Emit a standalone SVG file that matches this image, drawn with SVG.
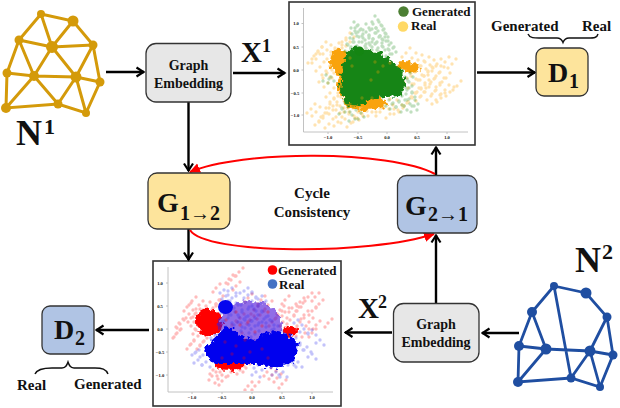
<svg xmlns="http://www.w3.org/2000/svg" width="620" height="408" viewBox="0 0 620 408">
<style>
text{font-family:"Liberation Serif","Times New Roman",serif;font-weight:bold;fill:#111}
.box{stroke:#333;stroke-width:1.3}
.gray{fill:#e7e7e7}.yel{fill:#fde49c}.blu{fill:#b0c4e4}
.lab{font-size:14px;text-anchor:middle}
.cy{font-size:15px;text-anchor:middle}
.lg{font-size:13px}
.side{font-size:15px}
.big{font-size:36px}.sup{font-size:22px}
.x{font-size:29px}.xs{font-size:18px}
.g{font-size:28px}.s{font-size:20px}
.tick{font-family:"DejaVu Sans",sans-serif;font-weight:normal;font-size:4.6px;fill:#666;text-anchor:middle}
.frame{fill:#fff;stroke:#333;stroke-width:1.6}
.spine{fill:none;stroke:#bbb;stroke-width:.9}
.arrow{fill:none;stroke:#000;stroke-width:2.4;marker-end:url(#v)}
.cyc{fill:none;stroke:#f00;stroke-width:2;marker-end:url(#r)}
.brace{fill:none;stroke:#111;stroke-width:1.4}
.y1{stroke:#d49a0a;stroke-width:3;fill:none;stroke-linecap:round}
.n1{fill:#d49a0a}
.b1{stroke:#1f4ea1;stroke-width:2.8;fill:none;stroke-linecap:round}
.n2{fill:#1f4ea1}
.dot{fill:none;stroke-linecap:round;stroke-width:3.4}
</style>
<defs>
<marker id="v" markerUnits="userSpaceOnUse" viewBox="0 0 12 12" refX="10.500" refY="6" markerWidth="12" markerHeight="12" orient="auto"><path d="M3 1.500L10 6L3 10.500" fill="none" stroke="#000" stroke-width="2.200"/></marker>
<marker id="r" markerUnits="userSpaceOnUse" viewBox="0 0 12 12" refX="10" refY="6" markerWidth="12" markerHeight="12" orient="auto"><path d="M0 1L11 6L0 11z" fill="#f00"/></marker>
<filter id="bl" x="-25%" y="-25%" width="150%" height="150%"><feTurbulence type="fractalNoise" baseFrequency=".22" numOctaves="2" seed="4" result="n"/><feDisplacementMap in="SourceGraphic" in2="n" scale="9" xChannelSelector="R" yChannelSelector="G"/><feGaussianBlur stdDeviation=".7"/></filter>
<clipPath id="c1"><rect x="290" y="3" width="184" height="128"/></clipPath>
<clipPath id="c2"><rect x="154" y="262" width="186" height="129"/></clipPath>
<path id="os" class="dot" stroke="#ffa500" d="M311 109h0M316 112h0M319 121h0M323 118h0M325 113h0M329 124h0M333 110h0M338 122h0M340 113h0M345 119h0M348 108h0M351 123h0M357 118h0M363 116h0M312 59h0M316 59h0M322 47h0M327 50h0M331 55h0M335 48h0M323 78h0M326 71h0M328 83h0M334 73h0M336 66h0M330 93h0M334 98h0M330 104h0M337 102h0M340 106h0M342 92h0M406 53h0M412 58h0M418 60h0M425 62h0M430 65h0M437 64h0M445 62h0M452 64h0M457 86h0M450 92h0M445 90h0M440 83h0M435 78h0M430 84h0M425 92h0M420 97h0M415 93h0M412 84h0M418 80h0M424 76h0M432 71h0M440 72h0M446 78h0M408 102h0M403 108h0M398 110h0M393 105h0M400 88h0M407 78h0M425 85h0M428 72h0M415 72h0M420 66h0M436 90h0M431 96h0M412 98h0M421 88h0M353 108h0M358 112h0M366 110h0M372 112h0M380 108h0M386 104h0M342 45h0M350 42h0M346 38h0M338 53h0M320 67h0M318 52h0M380 112h0M390 114h0M441 98h0M436 100h0"/>
<path id="gs" class="dot" stroke="#1c8a18" d="M354 22h0M355 28h0M358 25h0M356 33h0M362 36h0M366 32h0M375 16h0M381 25h0M379 22h0M383 30h0M376 33h0M372 29h0M380 36h0M386 41h0M382 46h0M375 44h0M369 43h0M362 42h0M354 42h0M351 47h0M348 45h0M355 47h0M366 48h0M373 39h0M385 37h0M391 43h0M389 50h0M377 50h0M369 38h0M360 30h0M385 33h0M393 48h0M373 24h0M366 24h0M350 38h0M404 86h0M409 88h0M402 96h0M407 100h0M404 106h0M414 106h0M412 93h0M409 82h0M405 77h0M410 73h0M399 101h0M393 103h0M389 100h0M352 115h0M342 108h0M353 106h0M326 75h0M331 77h0M361 113h0M345 103h0M415 100h0"/>
<path id="rs" class="dot" stroke="#f00" d="M177 333h0M179 323h0M176 334h0M180 324h0M187 307h0M192 301h0M189 314h0M191 318h0M196 313h0M199 305h0M194 340h0M200 345h0M203 342h0M190 345h0M206 306h0M216 288h0M231 280h0M236 286h0M229 279h0M239 272h0M205 322h0M198 325h0M196 330h0M194 322h0M202 314h0M212 310h0M219 300h0M216 304h0M212 376h0M218 379h0M222 381h0M220 372h0M213 370h0M248 386h0M255 386h0M261 300h0M268 305h0M280 310h0M285 312h0M292 308h0M297 311h0M300 302h0M308 297h0M315 297h0M319 304h0M312 311h0M304 315h0M309 322h0M316 325h0M328 323h0M300 322h0M290 320h0M278 315h0M272 322h0M283 322h0M260 315h0M250 320h0M240 318h0M232 325h0M305 333h0M312 333h0M272 375h0M277 378h0M267 372h0M282 384h0M240 370h0M231 372h0M246 368h0M285 300h0M299 307h0M248 298h0M254 310h0M238 337h0M250 345h0M262 360h0M278 345h0M292 340h0"/>
<path id="bs" class="dot" stroke="#2a2af0" d="M224 290h0M232 288h0M240 293h0M248 288h0M252 292h0M256 298h0M262 296h0M245 302h0M238 305h0M232 298h0M226 296h0M252 306h0M258 306h0M242 312h0M235 312h0M248 316h0M255 318h0M262 312h0M268 316h0M272 330h0M278 326h0M284 340h0M296 338h0M304 329h0M312 330h0M300 345h0M307 347h0M312 354h0M298 362h0M292 362h0M283 372h0M276 372h0M256 372h0M258 365h0M196 352h0M199 350h0M206 362h0M198 360h0M222 322h0M228 318h0M238 322h0M245 328h0M255 326h0M262 322h0M270 320h0M215 335h0M232 332h0M240 338h0M262 338h0M272 342h0M320 340h0M298 320h0M225 310h0M245 320h0M255 334h0"/>
</defs>
<rect width="620" height="408" fill="#fff"/>

<g id="plot-x1">
<rect class="frame" x="289" y="2" width="186" height="143"/>
<path class="spine" d="M303.500 8V132H468M303.500 23.500h-2M303.500 47h-2M303.500 70h-2M303.500 93h-2M303.500 115h-2M328 132v2M358 132v2M387 132v2M417 132v2M447 132v2"/>
<g class="tick"><text x="296" y="25">1.0</text><text x="296" y="48.500">0.5</text><text x="296" y="71.500">0.0</text><text x="295" y="94.500">−0.5</text><text x="295" y="116.500">−1.0</text><text x="328" y="139">−1.0</text><text x="358" y="139">−0.5</text><text x="387" y="139">0.0</text><text x="417" y="139">0.5</text><text x="447" y="139">1.0</text></g>
<g clip-path="url(#c1)">
<g opacity=".3"><use href="#os"/><use href="#os" transform="translate(4 -5)"/><use href="#os" transform="translate(-4 4)"/></g>
<g filter="url(#bl)" fill="#f9a30e"><ellipse cx="340" cy="62" rx="10" ry="13"/><ellipse cx="345" cy="85" rx="7" ry="14"/><ellipse cx="412" cy="68" rx="8" ry="5"/><ellipse cx="365" cy="103" rx="22" ry="7"/><ellipse cx="405" cy="66" rx="9" ry="5"/></g>
<g opacity=".27"><use href="#gs"/><use href="#gs" transform="translate(3 4)"/><use href="#gs" transform="translate(-3 6)"/></g>
<g fill="#148512"><path filter="url(#bl)" d="M342 70L345 56L356 46L365 50L380 53L392 61L402 70L405 85L400 96L385 97L372 99L360 106L346 104L340 92Z"/><circle cx="359.500" cy="51" r="4.500"/></g>
<path class="dot" stroke="#ffa500" opacity=".3" d="M350 58h0M352 66h0M375 62h0M378 72h0M383 66h0M371 80h0M390 63h0M398 66h0M362 98h0M372 98h0"/>
</g>
<circle cx="403.500" cy="11.500" r="5.200" fill="#4c7f33"/><circle cx="403" cy="26.500" r="5.200" fill="#ffd966"/>
<text class="lg" x="412" y="16">Generated</text><text class="lg" x="411" y="30">Real</text>
</g>

<g id="plot-x2">
<rect class="frame" x="153" y="261" width="188" height="145"/>
<path class="spine" d="M168 267V392H333M168 283h-2M168 306h-2M168 329h-2M168 352h-2M168 375h-2M192 392v2M222 392v2M252 392v2M282 392v2M312 392v2"/>
<g class="tick"><text x="160" y="284.500">1.0</text><text x="160" y="307.500">0.5</text><text x="160" y="330.500">0.0</text><text x="160" y="353.500">−0.5</text><text x="160" y="376.500">−1.0</text><text x="192" y="399">−1.0</text><text x="222" y="399">−0.5</text><text x="252" y="399">0.0</text><text x="282" y="399">0.5</text><text x="312" y="399">1.0</text></g>
<g clip-path="url(#c2)">
<g opacity=".26"><use href="#rs"/><use href="#rs" transform="translate(4 -4)"/><use href="#rs" transform="translate(-3 4)"/></g>
<g filter="url(#bl)" fill="#f00"><ellipse cx="209" cy="322" rx="13" ry="14"/><ellipse cx="290" cy="331" rx="7" ry="5"/><ellipse cx="230" cy="364" rx="15" ry="7"/></g>
<ellipse cx="250" cy="325" rx="32" ry="24" fill="#4a10d8" opacity=".6" filter="url(#bl)"/>
<g opacity=".28"><use href="#bs"/><use href="#bs" transform="translate(4 5)"/><use href="#bs" transform="translate(-4 3)"/></g>
<g fill="#0606ee"><path filter="url(#bl)" d="M204 352L212 340L228 325L240 335L255 340L270 330L290 335L299 345L294 362L275 368L255 364L235 364L215 364Z"/><ellipse cx="225.500" cy="307" rx="7.500" ry="7"/></g>
<g opacity=".3"><path class="dot" stroke="#f00" d="M236 346h0M245 340h0M250 352h0M262 349h0M225 342h0M232 354h0M244 358h0M255 332h0M240 325h0M226 320h0M268 358h0M222 358h0M248 322h0M262 326h0M236 312h0M268 312h0"/></g>
</g>
<circle cx="272.500" cy="270" r="4.800" fill="#f00"/><circle cx="272.500" cy="284" r="4.800" fill="#4472c4"/>
<text class="lg" x="278" y="275">Generated</text><text class="lg" x="279" y="289">Real</text>
</g>

<g id="connectors">
<path class="arrow" d="M106 72H144"/>
<path class="arrow" d="M233 73H285"/>
<path class="arrow" d="M477 72.500H535"/>
<path class="arrow" d="M188.500 102V171"/>
<path class="arrow" d="M188.500 229V260"/>
<path class="arrow" d="M436 175V147"/>
<path class="arrow" d="M436 303V235"/>
<path class="arrow" d="M519 333H482"/>
<path class="arrow" d="M392 332.500H345"/>
<path class="arrow" d="M149 330H96"/>
<path class="cyc" d="M435 174C390 150 240 150 190 172"/>
<path class="cyc" d="M190 230C205 255 370 255 434 234"/>
</g>

<g id="n1">
<path class="y1" d="M41 14L73 21L93 45L100 82L86 113L58 104L6 108L7 73L19 40L41 14M41 14L52 47M73 21L52 47M19 40L52 47L93 45M19 40L34 76M52 47L34 76M52 47L76 77M93 45L76 77M7 73L34 76L76 77L100 82M34 76L6 108M34 76L58 104M76 77L58 104M76 77L86 113"/>
<g class="n1"><circle cx="41" cy="14" r="4"/><circle cx="73" cy="21" r="5.500"/><circle cx="19" cy="40" r="4.500"/><circle cx="52" cy="47" r="6"/><circle cx="93" cy="45" r="4.500"/><circle cx="7" cy="73" r="4.500"/><circle cx="34" cy="76" r="5"/><circle cx="76" cy="77" r="5.500"/><circle cx="100" cy="82" r="4.500"/><circle cx="6" cy="108" r="5"/><circle cx="58" cy="104" r="4.500"/><circle cx="86" cy="113" r="4"/></g>
<text class="big" x="16" y="145">N</text><text class="sup" x="44" y="134">1</text>
</g>

<g id="n2">
<path class="b1" d="M554 286L586 293L607 317L613 355L600 387L571 378L518 382L519 346L532 312L554 286M554 286L571 378M532 312L546 349M519 346L546 349L590 351L613 355M546 349L518 382M607 317L590 351M590 351L571 378M590 351L600 387"/>
<g class="n2"><circle cx="554" cy="286" r="4"/><circle cx="586" cy="293" r="5.500"/><circle cx="532" cy="312" r="5"/><circle cx="607" cy="317" r="4.500"/><circle cx="519" cy="346" r="5"/><circle cx="546" cy="349" r="5.500"/><circle cx="590" cy="351" r="5.500"/><circle cx="613" cy="355" r="4.500"/><circle cx="518" cy="382" r="5"/><circle cx="571" cy="378" r="4.500"/><circle cx="600" cy="387" r="4"/></g>
<text class="big" x="575" y="272">N</text><text class="sup" x="602" y="259">2</text>
</g>

<g id="embed-1"><rect class="box gray" x="146" y="43.500" width="85" height="58.500" rx="10"/><text class="lab" x="188.500" y="70">Graph</text><text class="lab" x="188.500" y="88">Embedding</text></g>
<g id="embed-2"><rect class="box gray" x="393.500" y="303.500" width="85.500" height="58.500" rx="10"/><text class="lab" x="436" y="329">Graph</text><text class="lab" x="436" y="347">Embedding</text></g>
<g id="label-x1"><text class="x" x="241" y="62">X</text><text class="xs" x="262" y="52">1</text></g>
<g id="label-x2"><text class="x" x="358" y="318">X</text><text class="xs" x="378" y="308">2</text></g>
<g id="g12"><rect class="box yel" x="148" y="173" width="82" height="56" rx="9"/><text class="g" x="157" y="212">G</text><text class="s" x="180" y="220">1→2</text></g>
<g id="g21"><rect class="box blu" x="397.500" y="175.500" width="79.500" height="57.500" rx="9"/><text class="g" x="405" y="215">G</text><text class="s" x="428" y="221">2→1</text></g>
<g id="cycle"><text class="cy" x="312" y="198">Cycle</text><text class="cy" x="312" y="217">Consistency</text></g>
<g id="d1"><rect class="box yel" x="536" y="48" width="52" height="48" rx="8"/><text class="g" x="548" y="82">D</text><text class="s" x="569" y="88">1</text>
<text class="side" x="491" y="31">Generated</text><text class="side" x="582" y="31">Real</text><path class="brace" d="M528 34C530 39 536 38 545 38H557C561 38 562 40 563 42.500C564 40 565 38 569 38H588C594 38 597 38 598 34"/></g>
<g id="d2"><rect class="box blu" x="42" y="306" width="52" height="48" rx="8"/><text class="g" x="54" y="339">D</text><text class="s" x="75" y="345">2</text>
<text class="side" x="17" y="390">Real</text><text class="side" x="74" y="389">Generated</text><path class="brace" d="M35 374C37 369 43 368 52 368H62C66 368 67 365 68 362C69 365 70 368 74 368H95C102 368 106 369 108 374"/></g>
</svg>
